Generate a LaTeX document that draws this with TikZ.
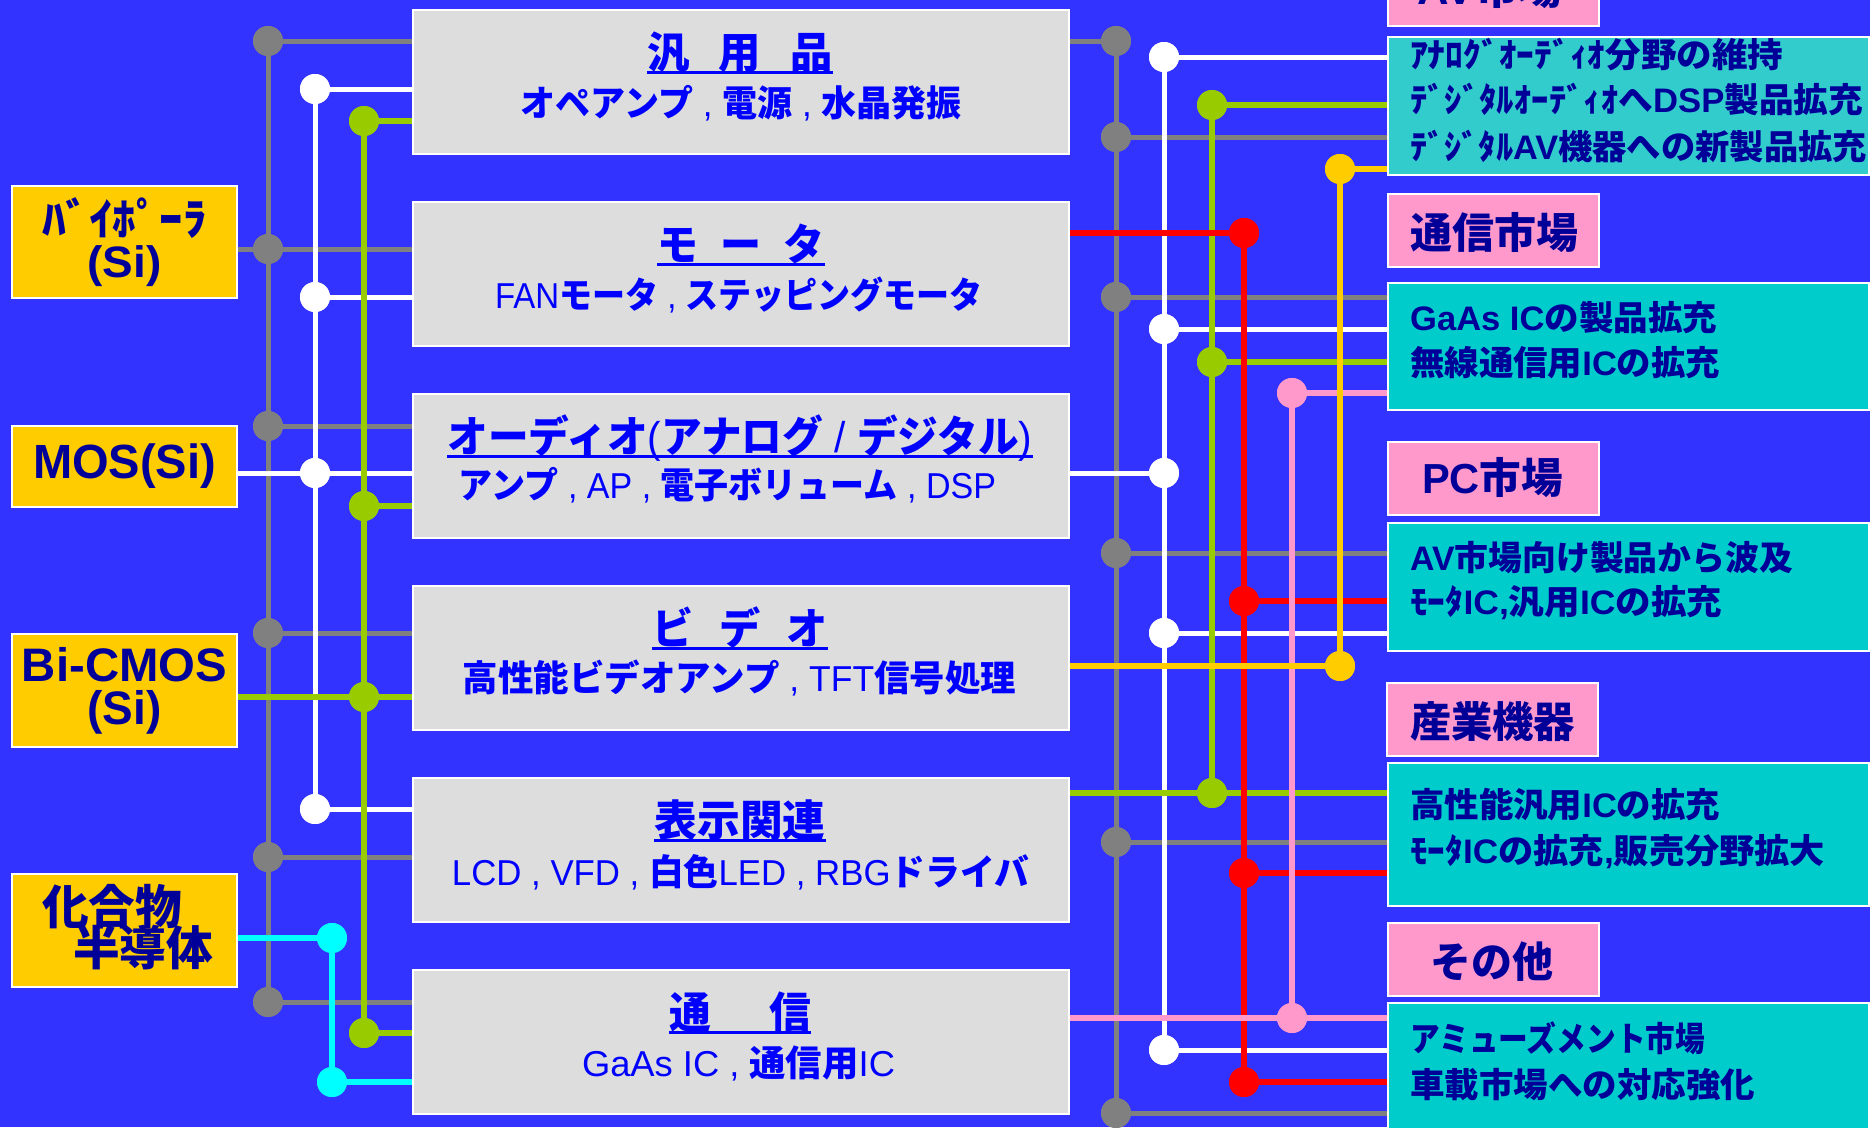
\documentclass[tikz,border=0pt]{standalone}
\usepackage{graphicx}
\usepackage{fontspec}
\setmainfont{Liberation Sans}
\newfontfamily\jp{Noto Sans CJK JP}
\usetikzlibrary{calc}
\definecolor{bg}{HTML}{3333FF}
\definecolor{cg}{HTML}{DDDDDD}
\definecolor{gold}{HTML}{FFCC00}
\definecolor{pk}{HTML}{FF99CC}
\definecolor{tl}{HTML}{00CCCC}
\definecolor{tla}{HTML}{33CCCC}
\definecolor{nv}{HTML}{000099}
\definecolor{bl}{HTML}{0000FF}
\definecolor{gy}{HTML}{808080}
\definecolor{gn}{HTML}{99CC00}
\definecolor{rd}{HTML}{FF0000}
\definecolor{yl}{HTML}{FFCC00}
\definecolor{cy}{HTML}{00FFFF}
\newcommand\jb[1]{{\jp\bfseries #1}}
\newcommand\fw[2]{\resizebox{#1pt}{\height}{#2}}
\tikzset{
  cbox/.style={draw=white, line width=2pt, fill=cg, minimum width=656pt, minimum height=144pt, anchor=north west, inner sep=0pt},
  lbox/.style={draw=white, line width=2pt, fill=gold, minimum width=225pt, anchor=north west, inner sep=0pt, text=nv, align=center},
  pbox/.style={draw=white, line width=2pt, fill=pk, minimum width=211pt, minimum height=73pt, anchor=north west, inner sep=0pt},
  tbox/.style={draw=white, line width=2pt, fill=tl, minimum width=481pt, anchor=north west, inner sep=0pt},
  htxt/.style={text=bl, inner sep=0pt, anchor=base, font=\fontsize{43}{43}\selectfont},
  stxt/.style={text=bl, inner sep=0pt, font=\fontsize{36}{36}\selectfont},
  ttxt/.style={text=nv, inner sep=0pt, anchor=west, font=\fontsize{34}{34}\selectfont\bfseries},
  ptxt/.style={text=nv, inner sep=0pt, font=\fontsize{42}{42}\selectfont\bfseries},
  uline/.style={draw=bl, line width=3pt},
  dot/.style={circle, fill=#1, minimum size=30pt, inner sep=0pt},
  gline/.style={draw=gy, line width=5pt},
  wline/.style={draw=white, line width=5pt},
  nline/.style={draw=gn, line width=6pt},
  rline/.style={draw=rd, line width=6pt},
  pline/.style={draw=pk, line width=6pt},
  yline/.style={draw=yl, line width=6pt},
  cline/.style={draw=cy, line width=6pt},
}
\begin{document}
\begin{tikzpicture}[x=1pt,y=-1pt]
\useasboundingbox (0,0) rectangle (1870,1127);
\fill[bg] (0,0) rectangle (1870,1127);
\clip (0,0) rectangle (1870,1127);

% left source boxes
\node[lbox, minimum height=112pt, font=\fontsize{44}{42}\selectfont\bfseries] (L1) at (11,185) {\fw{164}{\jb{ﾊﾞｲﾎﾟｰﾗ}}\\\fw{74}{(Si)}};
\node[lbox, minimum height=81pt, font=\fontsize{48}{48}\selectfont\bfseries] (L2) at (11,425) {\fw{183}{MOS(Si)}};
\node[lbox, minimum height=113pt, font=\fontsize{47}{43}\selectfont\bfseries] (L3) at (11,633) {\fw{205}{Bi-CMOS}\\\fw{74}{(Si)}};
\node[lbox, minimum height=113pt] (L4) at (11,873) {};
\node[text=nv, inner sep=0pt, font=\fontsize{47}{47}\selectfont] (L4a) at (112,907) {\fw{140}{\jb{化合物}}};
\node[text=nv, inner sep=0pt, font=\fontsize{47}{47}\selectfont] (L4b) at (143,948) {\fw{140}{\jb{半導体}}};

% centre boxes
\node[cbox] (b1) at (412,9) {};
\node[cbox] (b2) at (412,201) {};
\node[cbox] (b3) at (412,393) {};
\node[cbox] (b4) at (412,585) {};
\node[cbox] (b5) at (412,777) {};
\node[cbox] (b6) at (412,969) {};

\node[htxt] (h1) at (740,68) {\fw{186}{\jb{汎\hspace{30pt}用\hspace{30pt}品}}};
\node[htxt] (h2) at (741,260) {\fw{167}{\jb{モ\hspace{23pt}ー\hspace{23pt}タ}}};
\node[htxt] (h3) at (740,452) {\fw{585}{\jb{オーディオ}(\jb{アナログ} / \jb{デジタル})}};
\node[htxt] (h4) at (740,644) {\fw{175}{\jb{ビ\hspace{27pt}デ\hspace{27pt}オ}}};
\node[htxt] (h5) at (740,836) {\fw{171}{\jb{表示関連}}};
\node[htxt] (h6) at (740,1028) {\fw{142}{\jb{通\hspace{60pt}信}}};
\foreach \h in {h1,h2,h3,h4,h5,h6}
  \draw[uline] ([yshift=-4pt]\h.base west) -- ([yshift=-4pt]\h.base east);

\node[stxt] (s1) at (741,103) {\fw{441}{\jb{オペアンプ} , \jb{電源} , \jb{水晶発振}}};
\node[stxt] (s2) at (739,295) {\fw{488}{FAN\jb{モータ} , \jb{ステッピングモータ}}};
\node[stxt] (s3) at (727.5,485) {\fw{537}{\jb{アンプ} , AP , \jb{電子ボリューム} , DSP}};
\node[stxt] (s4) at (739.5,678) {\fw{553}{\jb{高性能ビデオアンプ} , TFT\jb{信号処理}}};
\node[stxt] (s5) at (740.5,872) {\fw{577}{LCD , VFD , \jb{白色}LED , RBG\jb{ドライバ}}};
\node[stxt] (s6) at (738.5,1063) {\fw{313}{GaAs IC , \jb{通信用}IC}};

% right market boxes
\node[pbox] (p1) at (1387,-48) {};
\node[pbox] (p2) at (1387,193) {};
\node[pbox] (p3) at (1387,441) {};
\node[pbox] (p4) at (1386,682) {};
\node[pbox] (p5) at (1387,922) {};
\node[ptxt] (q1) at (1490,-11) {\fw{145}{AV\jb{市場}}};
\node[ptxt] (q2) at (1494,233) {\fw{168}{\jb{通信市場}}};
\node[ptxt] (q3) at (1492.5,478) {\fw{141}{PC\jb{市場}}};
\node[ptxt] (q4) at (1492.5,722) {\fw{165}{\jb{産業機器}}};
\node[ptxt] (q5) at (1491.5,962) {\fw{123}{\jb{その他}}};

\node[tbox, fill=tla, minimum height=138pt] (t1) at (1387,36) {};
\node[tbox, minimum height=127pt] (t2) at (1387,282) {};
\node[tbox, minimum height=128pt] (t3) at (1387,522) {};
\node[tbox, minimum height=143pt] (t4) at (1387,762) {};
\node[tbox, minimum height=140pt] (t5) at (1387,1002) {};

\node[ttxt] (u11) at (1410,55) {\fw{373}{\jb{ｱﾅﾛｸﾞｵｰﾃﾞｨｵ分野の維持}}};
\node[ttxt] (u12) at (1410,100) {\fw{453}{\jb{ﾃﾞｼﾞﾀﾙｵｰﾃﾞｨｵへ}DSP\jb{製品拡充}}};
\node[ttxt] (u13) at (1410,147) {\fw{457}{\jb{ﾃﾞｼﾞﾀﾙ}AV\jb{機器への新製品拡充}}};
\node[ttxt] (u21) at (1410,318) {\fw{307}{GaAs IC\jb{の製品拡充}}};
\node[ttxt] (u22) at (1410,363) {\fw{310}{\jb{無線通信用}IC\jb{の拡充}}};
\node[ttxt] (u31) at (1410,558) {\fw{383}{AV\jb{市場向け製品から波及}}};
\node[ttxt] (u32) at (1410,603) {\fw{312}{\jb{ﾓｰﾀ}IC,\jb{汎用}IC\jb{の拡充}}};
\node[ttxt] (u41) at (1410,805) {\fw{310}{\jb{高性能汎用}IC\jb{の拡充}}};
\node[ttxt] (u42) at (1410,852) {\fw{415}{\jb{ﾓｰﾀ}IC\jb{の拡充},\jb{販売分野拡大}}};
\node[ttxt] (u51) at (1410,1038) {\fw{295}{\jb{アミューズメント市場}}};
\node[ttxt] (u52) at (1410,1085) {\fw{345}{\jb{車載市場への対応強化}}};

% junction dots (left)
\node[dot=gy] (lg1) at (268,41) {};
\node[dot=gy] (lg2) at (268,249) {};
\node[dot=gy] (lg3) at (268,426) {};
\node[dot=gy] (lg4) at (268,633) {};
\node[dot=gy] (lg5) at (268,857) {};
\node[dot=gy] (lg6) at (268,1002) {};
\node[dot=white] (lw1) at (315,89) {};
\node[dot=white] (lw2) at (315,297) {};
\node[dot=white] (lw3) at (315,473) {};
\node[dot=white] (lw4) at (315,809) {};
\node[dot=gn] (ln1) at (364,121) {};
\node[dot=gn] (ln2) at (364,506) {};
\node[dot=gn] (ln3) at (364,697) {};
\node[dot=gn] (ln4) at (364,1033) {};
\node[dot=cy] (lc1) at (332,938) {};
\node[dot=cy] (lc2) at (332,1082) {};
% junction dots (right)
\node[dot=gy] (rg1) at (1116,41) {};
\node[dot=gy] (rg2) at (1116,137) {};
\node[dot=gy] (rg3) at (1116,297) {};
\node[dot=gy] (rg4) at (1116,553) {};
\node[dot=gy] (rg5) at (1116,842) {};
\node[dot=gy] (rg6) at (1116,1113) {};
\node[dot=white] (rw1) at (1164,57) {};
\node[dot=white] (rw2) at (1164,329) {};
\node[dot=white] (rw3) at (1164,473) {};
\node[dot=white] (rw4) at (1164,633) {};
\node[dot=white] (rw5) at (1164,1050) {};
\node[dot=gn] (rn1) at (1212,105) {};
\node[dot=gn] (rn2) at (1212,362) {};
\node[dot=gn] (rn3) at (1212,793) {};
\node[dot=rd] (rr1) at (1244,233) {};
\node[dot=rd] (rr2) at (1244,601) {};
\node[dot=rd] (rr3) at (1244,873) {};
\node[dot=rd] (rr4) at (1244,1082) {};
\node[dot=pk] (rp1) at (1292,393) {};
\node[dot=pk] (rp2) at (1292,1018) {};
\node[dot=yl] (ry1) at (1340,169) {};
\node[dot=yl] (ry2) at (1340,666) {};

% left wires
\draw[gline] (lg1) -- (lg6);
\draw[gline] (lg1) -- (b1.west |- lg1);
\draw[gline] (L1.east |- lg2) -- (b2.west |- lg2);
\draw[gline] (lg3) -- (b3.west |- lg3);
\draw[gline] (lg4) -- (b4.west |- lg4);
\draw[gline] (lg5) -- (b5.west |- lg5);
\draw[gline] (lg6) -- (b6.west |- lg6);
\draw[wline] (lw1) -- (lw4);
\draw[wline] (lw1) -- (b1.west |- lw1);
\draw[wline] (lw2) -- (b2.west |- lw2);
\draw[wline] (L2.east |- lw3) -- (b3.west |- lw3);
\draw[wline] (lw4) -- (b5.west |- lw4);
\draw[nline] (ln1) -- (ln4);
\draw[nline] (ln1) -- (b1.west |- ln1);
\draw[nline] (ln2) -- (b3.west |- ln2);
\draw[nline] (L3.east |- ln3) -- (b4.west |- ln3);
\draw[nline] (ln4) -- (b6.west |- ln4);
\draw[cline] (L4.east |- lc1) -- (lc1);
\draw[cline] (lc1) -- (lc2);
\draw[cline] (lc2) -- (b6.west |- lc2);

% right wires
\draw[gline] (rg1) -- (rg6);
\draw[gline] (b1.east |- rg1) -- (rg1);
\draw[gline] (rg2) -- (t1.west |- rg2);
\draw[gline] (rg3) -- (t2.west |- rg3);
\draw[gline] (rg4) -- (t3.west |- rg4);
\draw[gline] (rg5) -- (t4.west |- rg5);
\draw[gline] (rg6) -- (t5.west |- rg6);
\draw[wline] (rw1) -- (rw5);
\draw[wline] (b3.east |- rw3) -- (rw3);
\draw[wline] (rw1) -- (t1.west |- rw1);
\draw[wline] (rw2) -- (t2.west |- rw2);
\draw[wline] (rw4) -- (t3.west |- rw4);
\draw[wline] (rw5) -- (t5.west |- rw5);
\draw[nline] (rn1) -- (rn3);
\draw[nline] (b5.east |- rn3) -- (t4.west |- rn3);
\draw[nline] (rn1) -- (t1.west |- rn1);
\draw[nline] (rn2) -- (t2.west |- rn2);
\draw[rline] (rr1) -- (rr4);
\draw[rline] (b2.east |- rr1) -- (rr1);
\draw[rline] (rr2) -- (t3.west |- rr2);
\draw[rline] (rr3) -- (t4.west |- rr3);
\draw[rline] (rr4) -- (t5.west |- rr4);
\draw[pline] (rp1) -- (rp2);
\draw[pline] (rp1) -- (t2.west |- rp1);
\draw[pline] (b6.east |- rp2) -- (t5.west |- rp2);
\draw[yline] (ry1) -- (ry2);
\draw[yline] (ry1) -- (t1.west |- ry1);
\draw[yline] (b4.east |- ry2) -- (ry2);

% redraw dots on top of wires
\foreach \d/\c in {lg1/gy,lg2/gy,lg3/gy,lg4/gy,lg5/gy,lg6/gy,lw1/white,lw2/white,lw3/white,lw4/white,ln1/gn,ln2/gn,ln3/gn,ln4/gn,lc1/cy,lc2/cy,rg1/gy,rg2/gy,rg3/gy,rg4/gy,rg5/gy,rg6/gy,rw1/white,rw2/white,rw3/white,rw4/white,rw5/white,rn1/gn,rn2/gn,rn3/gn,rr1/rd,rr2/rd,rr3/rd,rr4/rd,rp1/pk,rp2/pk,ry1/yl,ry2/yl}
  \fill[\c] (\d.center) circle[radius=15pt];
\end{tikzpicture}
\end{document}
